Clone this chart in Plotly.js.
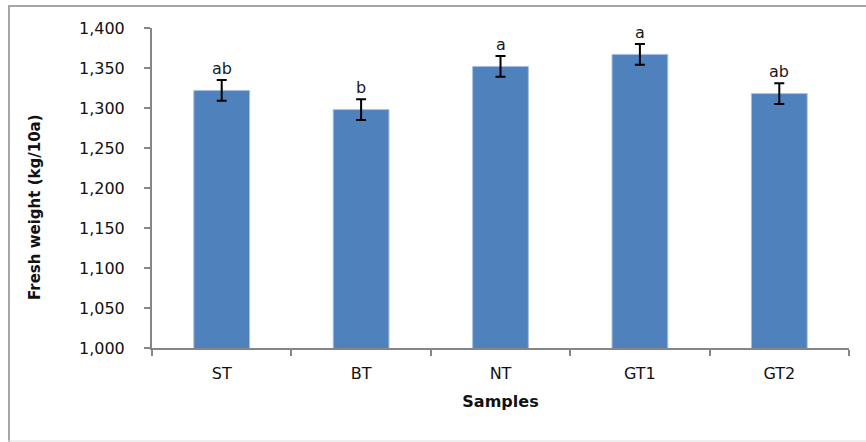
<!DOCTYPE html>
<html><head><meta charset="utf-8">
<script src="https://cdn.plot.ly/plotly-3.0.1.min.js"></script>
<style>html,body{margin:0;padding:0;background:#fff;}#chart{width:866px;height:442px;}</style>
</head><body><div id="chart"></div>
<script>
const categories = ["ST", "BT", "NT", "GT1", "GT2"];
const freshWeight = [1322, 1298, 1352, 1367, 1318];
const errors = [13, 13, 13, 13, 13];
const letters = ["ab", "b", "a", "a", "ab"];
const yTicks = [1000, 1050, 1100, 1150, 1200, 1250, 1300, 1350, 1400];
const yTickLabels = ["1,000", "1,050", "1,100", "1,150", "1,200", "1,250", "1,300", "1,350", "1,400"];

const font = "DejaVu Sans, Verdana, sans-serif";
const axisColor = "#868686";

const trace = {
  type: "bar",
  x: categories,
  y: freshWeight,
  width: 0.4,
  marker: {color: "#4f81bd", line: {color: "#a7bfe0", width: 1}},
  error_y: {type: "data", array: errors, visible: true, color: "#000", thickness: 2, width: 5},
  hoverinfo: "skip"
};

const annotations = categories.map((c, i) => ({
  x: c, y: freshWeight[i] + errors[i], xref: "x", yref: "y",
  text: letters[i], showarrow: false, yanchor: "bottom", yshift: 0,
  font: {family: font, size: 16, color: "#1a1a1a"}
}));
annotations.push({
  xref: "paper", yref: "paper", x: (35 - 152) / 697, y: (348 - 207) / 320,
  text: "<b>Fresh weight (kg/10a)</b>", textangle: -90, showarrow: false,
  xanchor: "center", yanchor: "middle",
  font: {family: font, size: 15, color: "#111"}
});

const layout = {
  width: 866, height: 442,
  margin: {l: 152, r: 17, t: 28, b: 94},
  paper_bgcolor: "#fff", plot_bgcolor: "#fff",
  showlegend: false,
  bargap: 0.6,
  font: {family: font, size: 16, color: "#111"},
  xaxis: {
    type: "category",
    showline: true, linecolor: axisColor, linewidth: 2,
    ticks: "outside", tickson: "boundaries", ticklen: 6, tickcolor: axisColor, tickwidth: 2,
    showgrid: false, zeroline: false,
    tickfont: {family: font, size: 16, color: "#111"},
    ticklabelstandoff: 10,
    title: {text: "<b>Samples</b>", font: {family: font, size: 16, color: "#111"}, standoff: 14}
  },
  yaxis: {
    range: [1000, 1400],
    tickvals: yTicks, ticktext: yTickLabels,
    showline: true, linecolor: axisColor, linewidth: 2,
    ticks: "outside", ticklen: 6, tickcolor: axisColor, tickwidth: 2,
    showgrid: false, zeroline: false,
    tickfont: {family: font, size: 16, color: "#111"},
    ticklabelstandoff: 16
  },
  annotations: annotations,
  shapes: [
    {type: "line", xref: "paper", yref: "paper", x0: (9 - 152) / 697, x1: (9 - 152) / 697,
     y0: (348 - 6) / 320, y1: (348 - 442) / 320, line: {color: "#a6a6a6", width: 2}},
    {type: "line", xref: "paper", yref: "paper", x0: (8 - 152) / 697, x1: (866 - 152) / 697,
     y0: (348 - 6) / 320, y1: (348 - 6) / 320, line: {color: "#a6a6a6", width: 2}},
    {type: "line", xref: "paper", yref: "paper", x0: (8 - 152) / 697, x1: (866 - 152) / 697,
     y0: (348 - 441) / 320, y1: (348 - 441) / 320, line: {color: "#dddddd", width: 1}}
  ]
};

Plotly.newPlot("chart", [trace], layout, {displayModeBar: false, staticPlot: true});
</script></body></html>
